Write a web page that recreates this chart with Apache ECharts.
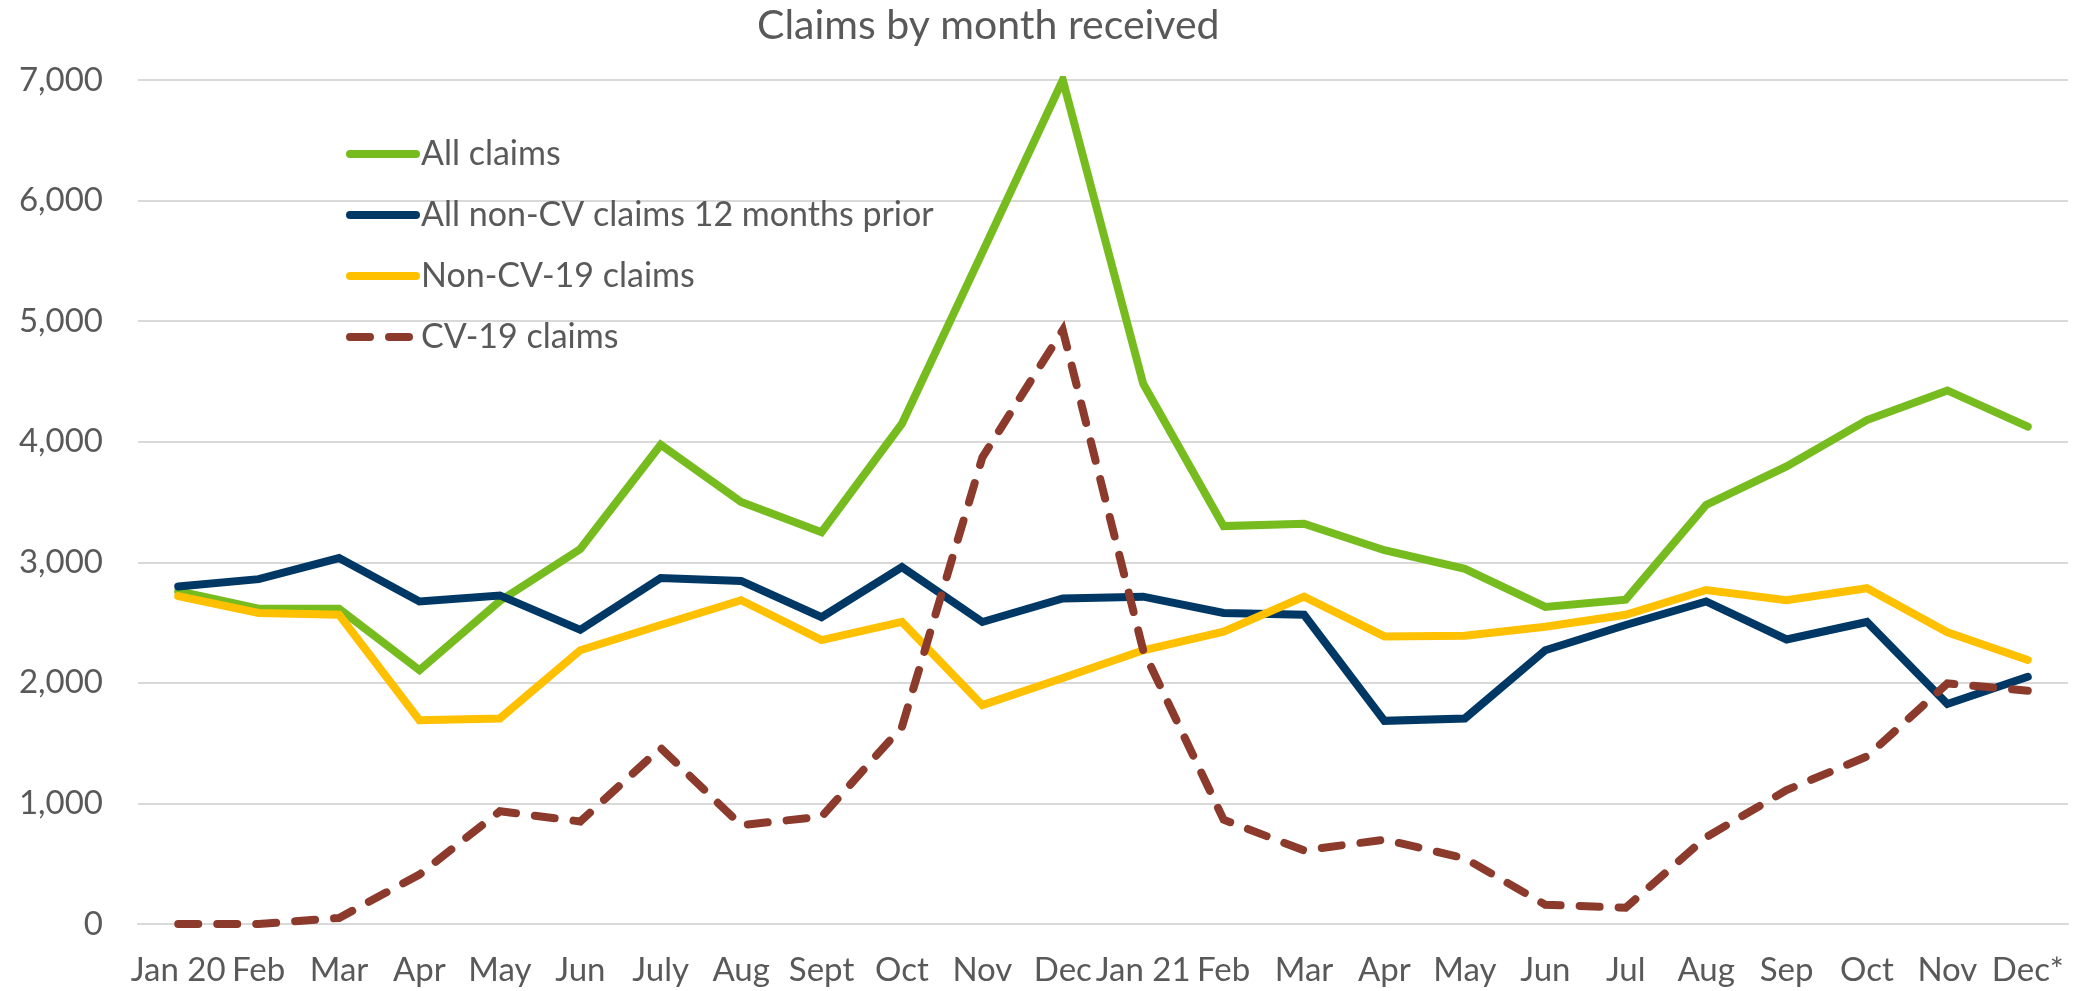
<!DOCTYPE html>
<html>
<head>
<meta charset="utf-8">
<script src="https://cdn.jsdelivr.net/npm/echarts@6/dist/echarts.min.js"></script>
<style>
  html, body { margin: 0; padding: 0; background: #fff; }
  #chart { width: 2074px; height: 991px; }
</style>
</head>
<body>
<div id="chart"></div>
<script>
// categories and values
var months = ["Jan 20", "Feb", "Mar", "Apr", "May", "Jun", "July", "Aug", "Sept", "Oct", "Nov", "Dec",
  "Jan 21", "Feb", "Mar", "Apr", "May", "Jun", "Jul", "Aug", "Sep", "Oct", "Nov", "Dec*"];
var allClaims = [2760, 2615, 2615, 2105, 2680, 3110, 3975, 3500, 3250, 4150, 5570, 7000,
  4480, 3300, 3320, 3100, 2945, 2630, 2690, 3475, 3795, 4180, 4425, 4125];
var nonCvPrior = [2800, 2860, 3035, 2675, 2725, 2440, 2870, 2845, 2545, 2960, 2505, 2700,
  2715, 2580, 2565, 1685, 1705, 2270, 2480, 2675, 2360, 2505, 1825, 2050];
var nonCv19 = [2720, 2580, 2565, 1690, 1705, 2270, 2480, 2685, 2355, 2505, 1815, 2040,
  2270, 2425, 2715, 2385, 2390, 2465, 2565, 2770, 2685, 2785, 2420, 2190];
var cv19 = [0, 0, 50, 410, 935, 850, 1460, 820, 890, 1635, 3870, 4925,
  2270, 865, 610, 700, 545, 160, 135, 720, 1110, 1390, 1995, 1935];
var yTicks = { min: 0, max: 7000, interval: 1000 };

var chart = echarts.init(document.getElementById("chart"));
var font = "Lato, 'Open Sans', sans-serif";
var textGrey = "#595959";

function lineSeries(name, data, color, dashed) {
  return {
    name: name,
    type: "line",
    data: data,
    symbol: "none",
    smooth: false,
    lineStyle: {
      color: color,
      width: 8,
      type: dashed ? [20, 19] : "solid",
      cap: "round",
      join: "miter"
    },
    itemStyle: { color: color }
  };
}

var option = {
  animation: false,
  backgroundColor: "#ffffff",
  title: {
    text: "Claims by month received",
    left: 752,
    top: 0,
    textStyle: { fontFamily: font, fontSize: 41, fontWeight: "normal", color: textGrey }
  },
  legend: {
    orient: "vertical",
    left: 341,
    top: 132,
    itemWidth: 66,
    itemHeight: 14,
    itemGap: 27,
    itemStyle: { opacity: 0 },
    lineStyle: { width: 8 },
    textStyle: { fontFamily: font, fontSize: 34, color: textGrey },
    data: ["All claims", "All non-CV claims 12 months prior", "Non-CV-19 claims", "CV-19 claims"]
  },
  grid: { left: 138, right: 6, top: 80, bottom: 67, containLabel: false },
  xAxis: {
    type: "category",
    data: months,
    boundaryGap: true,
    axisLine: { lineStyle: { color: "#d9d9d9", width: 2 } },
    axisTick: { show: false },
    axisLabel: { interval: 0, margin: 30, fontFamily: font, fontSize: 33, color: textGrey }
  },
  yAxis: {
    type: "value",
    min: yTicks.min,
    max: yTicks.max,
    interval: yTicks.interval,
    axisLine: { show: false },
    axisTick: { show: false },
    splitLine: { lineStyle: { color: "#d9d9d9", width: 2 } },
    axisLabel: {
      margin: 35,
      fontFamily: font,
      fontSize: 33,
      color: textGrey,
      formatter: function (v) { return v.toLocaleString("en-US"); }
    }
  },
  series: [
    lineSeries("All claims", allClaims, "#77bc1f", false),
    lineSeries("All non-CV claims 12 months prior", nonCvPrior, "#003865", false),
    lineSeries("Non-CV-19 claims", nonCv19, "#ffc000", false),
    lineSeries("CV-19 claims", cv19, "#8b3a2b", true)
  ]
};

chart.setOption(option);
</script>
</body>
</html>
